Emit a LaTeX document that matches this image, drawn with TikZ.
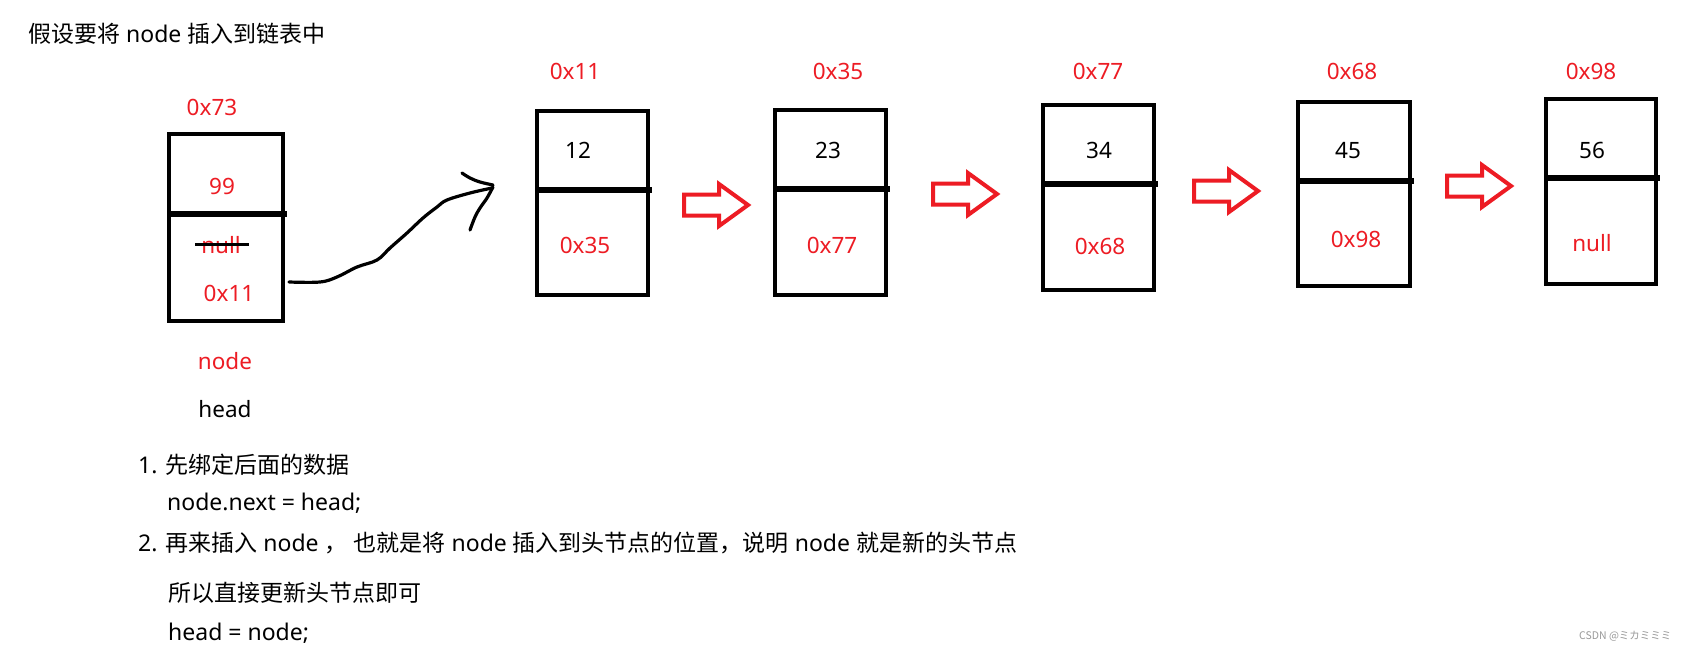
\documentclass[tikz,border=0pt]{standalone}
\usepackage{fontspec}
\setmainfont{Noto Sans}
\newfontfamily\cjkf{Noto Sans CJK SC}
\newfontfamily\jpf{Noto Sans CJK JP}
\definecolor{pred}{RGB}{237,28,36}
\newcommand\blockarr[2]{\draw[blockarrow] (#1,#2) ++(0,-10.5) -- ++(35,0) -- ++(0,-10.5) -- ++(29,21) -- ++(-29,21) -- ++(0,-10.5) -- ++(-35,0) -- cycle;}
\tikzset{
  lbl/.style={font=\fontsize{22.5}{27}\selectfont, text=pred, anchor=base, inner sep=0pt},
  val/.style={font=\fontsize{22.5}{27}\selectfont, text=black, anchor=base, inner sep=0pt},
  txt/.style={font=\fontsize{23}{28}\selectfont, text=black, anchor=base west, inner sep=0pt},
  cell/.style={draw=black, line width=4.5pt, inner sep=0pt, outer sep=0pt},
  divline/.style={draw=black, line width=5.5pt},
  blockarrow/.style={draw=pred, line width=4pt, line join=miter},
  hand/.style={draw=black, line width=3.2pt, line cap=round, line join=round},
  strike/.style={draw=black, line width=3pt}
}
\begin{document}
\begin{tikzpicture}[x=1pt,y=-1pt]
\useasboundingbox (0,0) rectangle (1687,651);
\fill[white] (0,0) rectangle (1687,651);

% title
\node[txt] (title) at (28,42) {{\cjkf 假设要将} node {\cjkf 插入到链表中}};

% boxes
\node[cell, minimum width=114pt, minimum height=187pt] (A) at (226,227.5) {};
\draw[divline] (167,214) -- (287,214);
\node[cell, minimum width=111pt, minimum height=184pt] (B) at (592.5,203) {};
\draw[divline] (535,190) -- (652,190);
\node[cell, minimum width=111pt, minimum height=185pt] (C) at (830.5,202.5) {};
\draw[divline] (773,189) -- (890,189);
\node[cell, minimum width=111pt, minimum height=185pt] (D) at (1098.5,197.5) {};
\draw[divline] (1041,184) -- (1158,184);
\node[cell, minimum width=112pt, minimum height=184pt] (E) at (1354,194) {};
\draw[divline] (1296,181) -- (1414,181);
\node[cell, minimum width=110pt, minimum height=185pt] (F) at (1601,191.5) {};
\draw[divline] (1544,178) -- (1660,178);

% labels of box A
\node[lbl] (addrA) at (212,115) {0x73};
\node[lbl] (valA) at (222,194) {99};
\node[lbl] (nullA) at (221,253) {null};
\draw[strike] (195,244) -- (249,244);
\node[lbl] (nextA) at (229,301) {0x11};
\node[lbl] (nodelbl) at (225,369) {node};
\node[val] (headlbl) at (225,417) {head};

% addresses
\node[lbl] (addrB) at (575,79) {0x11};
\node[lbl] (addrC) at (838,79) {0x35};
\node[lbl] (addrD) at (1098,79) {0x77};
\node[lbl] (addrE) at (1352,79) {0x68};
\node[lbl] (addrF) at (1591,79) {0x98};

% values
\node[val] (valB) at (578,158) {12};
\node[val] (valC) at (828,158) {23};
\node[val] (valD) at (1099,158) {34};
\node[val] (valE) at (1348,158) {45};
\node[val] (valF) at (1592,158) {56};

% next pointers
\node[lbl] (nextB) at (585,253) {0x35};
\node[lbl] (nextC) at (832,253) {0x77};
\node[lbl] (nextD) at (1100,254) {0x68};
\node[lbl] (nextE) at (1356,247) {0x98};
\node[lbl] (nextF) at (1592,251) {null};

% block arrows
\blockarr{684}{205}
\blockarr{933}{194}
\blockarr{1194}{191}
\blockarr{1447}{186}

% hand drawn arrow
\coordinate (cstart) at (289,282);
\draw[hand] plot[smooth, tension=0.6] coordinates {(cstart) (320,282) (337,277) (357,267) (377,260) (390,248) (407,233) (423,218) (437,207) (447,200) (470,193) (492,188)};
\draw[hand] plot[smooth, tension=0.6] coordinates {(462,173) (470,178) (480,182) (493,185)};
\draw[hand] plot[smooth, tension=0.6] coordinates {(493,187) (487,198) (480,208) (475,217) (470,230)};

% explanation
\node[txt] (l1) at (138,473) {1. {\cjkf 先绑定后面的数据}};
\node[txt] (l2) at (167,510) {node.next = head;};
\node[txt] (l3) at (138,551) {2. {\cjkf 再来插入} node {\cjkf ，} {\cjkf 也就是将} node {\cjkf 插入到头节点的位置，说明} node {\cjkf 就是新的头节点}};
\node[txt] (l4) at (168,601) {\cjkf 所以直接更新头节点即可};
\node[txt] (l5) at (168,640) {head = node;};

% watermark
\node[anchor=base west, inner sep=0pt, font=\jpf\fontsize{10.5}{12}\selectfont, text=black!40] (wm) at (1579,639) {CSDN @ミカミミミ};
\end{tikzpicture}
\end{document}
